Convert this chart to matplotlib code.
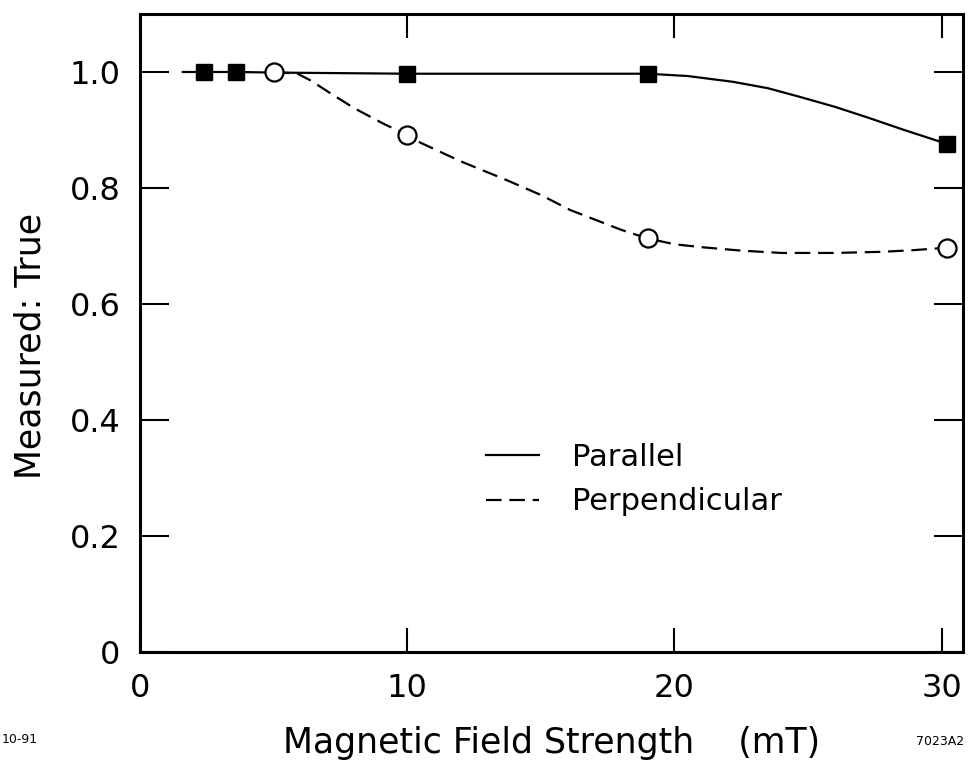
import matplotlib
matplotlib.use("Agg")
import matplotlib.pyplot as plt

plt.rcParams["font.family"] = ["DejaVu Sans"]

# Puntos medidos (marcadores)
parallel_x = [2.4, 3.6, 10.0, 19.0, 30.2]
parallel_y = [1.0, 1.0, 0.997, 0.997, 0.876]
perp_x = [5.0, 10.0, 19.0, 30.2]
perp_y = [1.0, 0.891, 0.713, 0.697]

# Curvas suavizadas
parallel_curve_x = [1.6, 2.4, 3.6, 5.0, 10.0, 15.0, 19.0, 20.5, 22.2, 23.5, 24.7, 26.0, 27.2, 28.6, 30.2]
parallel_curve_y = [1.0, 1.0, 1.0, 0.999, 0.997, 0.997, 0.997, 0.993, 0.983, 0.972, 0.957, 0.940, 0.922, 0.900, 0.876]
perp_curve_x = [5.0, 5.9, 6.4, 7.0, 8.0, 9.06, 10.0, 10.5, 12.0, 13.7, 15.0, 16.1, 18.0, 19.0, 20.0, 21.0,
                22.5, 24.0, 26.0, 27.8, 29.0, 30.2]
perp_curve_y = [1.0, 0.997, 0.985, 0.967, 0.938, 0.912, 0.891, 0.878, 0.846, 0.814, 0.788, 0.762, 0.728, 0.713,
                0.703, 0.698, 0.692, 0.688, 0.688, 0.690, 0.693, 0.697]

x_ticks = [0, 10, 20, 30]
y_ticks = [0, 0.2, 0.4, 0.6, 0.8, 1.0]
y_tick_labels = ["0", "0.2", "0.4", "0.6", "0.8", "1.0"]

fig = plt.figure(figsize=(9.69, 7.64), dpi=100)
ax = fig.add_axes([0.1445, 0.1466, 0.8493, 0.8351])

ax.plot(parallel_curve_x, parallel_curve_y, color="black", lw=1.6, label="Parallel", zorder=2)
ax.plot(perp_curve_x, perp_curve_y, color="black", lw=1.6, dashes=(7, 3.5), label="Perpendicular", zorder=2)
ax.plot(parallel_x, parallel_y, ls="none", marker="s", ms=11, color="black", zorder=3)
ax.plot(perp_x, perp_y, ls="none", marker="o", ms=13, mfc="white", mec="black", mew=1.6, zorder=3)

ax.set_xlim(0, 30.8)
ax.set_ylim(0, 1.1)
ax.set_xticks(x_ticks)
ax.set_yticks(y_ticks)
ax.set_yticklabels(y_tick_labels)

for side in ax.spines.values():
    side.set_linewidth(2.2)

ax.tick_params(axis="both", direction="in", width=1.5, labelsize=23, top=True, right=True)
ax.tick_params(axis="y", length=21, pad=14)
ax.tick_params(axis="x", length=17, pad=15)

ax.set_xlabel("Magnetic Field Strength    (mT)", fontsize=25, labelpad=16)
ax.set_ylabel("Measured: True", fontsize=25)
ax.yaxis.set_label_coords(-0.112, 0.48)

ax.legend(loc="center left", bbox_to_anchor=(0.42, 0.27), frameon=False, fontsize=22,
          handlelength=1.73, handletextpad=1.1, labelspacing=0.5, borderpad=0, borderaxespad=0)

fig.text(0.002, 0.028, "10-91", fontsize=9)
fig.text(0.995, 0.025, "7023A2", fontsize=9, ha="right")

fig.savefig("out.png", dpi=100)
